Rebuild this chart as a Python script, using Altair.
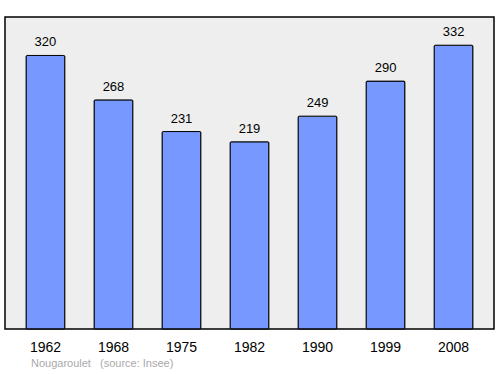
import altair as alt
import pandas as pd

years = ["1962", "1968", "1975", "1982", "1990", "1999", "2008"]
population = [320, 268, 231, 219, 249, 290, 332]
source_parts = ["Nougaroulet", "(source: Insee)"]

df = pd.DataFrame({"year": years, "pop": population})

x = alt.X("year:N", sort=years,
          scale=alt.Scale(paddingInner=0.43, paddingOuter=0.31),
          axis=alt.Axis(title=None, labelAngle=0, domain=False, ticks=False,
                        labelFontSize=14, labelFont="Liberation Sans",
                        labelColor="#000000", labelPadding=11))
y = alt.Y("pop:Q", scale=alt.Scale(domain=[0, 365], nice=False),
          axis=None)

bars = alt.Chart(df).mark_bar(color="#7799ff", stroke="#000000",
                              strokeWidth=1, cornerRadius=1).encode(x=x, y=y)
labels = alt.Chart(df).mark_text(baseline="bottom", dy=-6, fontSize=13,
                                 font="Liberation Sans", color="#000000").encode(
    x=x, y=y, text="pop:Q")
source1 = alt.Chart(pd.DataFrame({"t": [source_parts[0]]})).mark_text(
    align="left", baseline="middle", fontSize=11, font="Liberation Sans",
    color="#aaaaaa").encode(x=alt.value(26), y=alt.value(347), text="t:N")
source2 = alt.Chart(pd.DataFrame({"t": [source_parts[1]]})).mark_text(
    align="left", baseline="middle", fontSize=11, font="Liberation Sans",
    color="#aaaaaa").encode(x=alt.value(95), y=alt.value(347), text="t:N")

chart = alt.layer(bars, labels, source1, source2).properties(
    width=489, height=312,
    autosize=alt.AutoSizeParams(type="none"),
    padding={"left": 5, "top": 17, "right": 6, "bottom": 45},
).configure_view(fill="#eeeeee", stroke="#000000", strokeWidth=1.5)

chart.save("out.html", embed_options={"renderer": "svg", "actions": False})
